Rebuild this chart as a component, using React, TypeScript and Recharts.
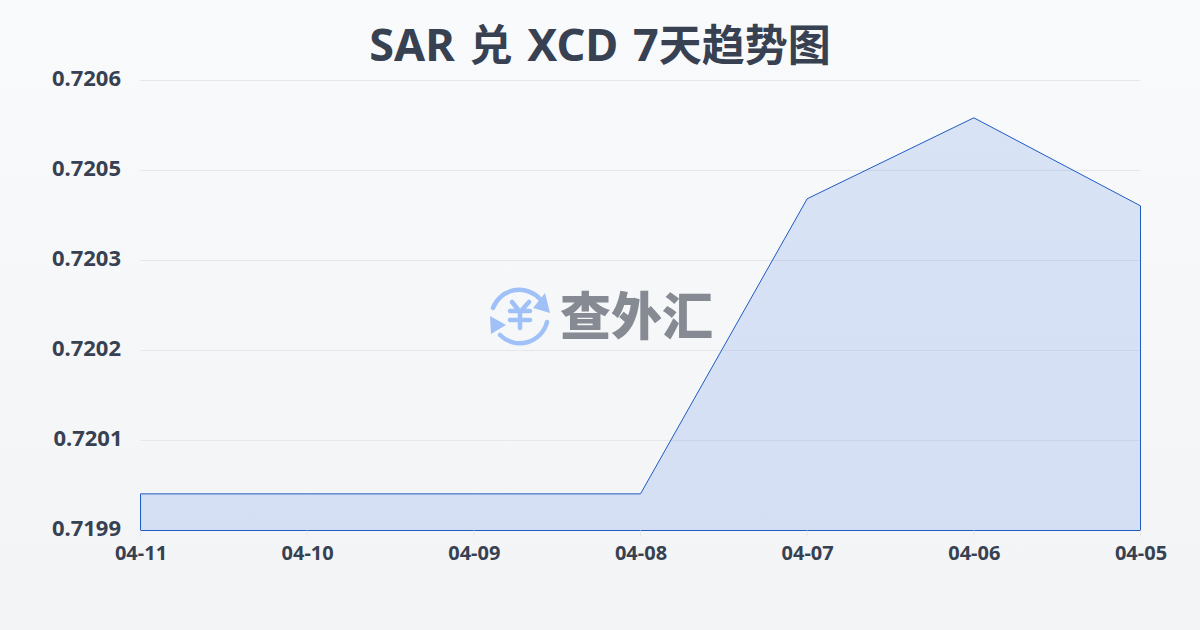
import React from 'react';
import { AreaChart, Area, XAxis, YAxis, CartesianGrid, ReferenceLine } from 'recharts';

const dates = ['04-11', '04-10', '04-09', '04-08', '04-07', '04-06', '04-05'];
const rates = [0.719977, 0.719977, 0.719977, 0.719977, 0.720436, 0.720562, 0.720425];
const yTicks = [0.71992, 0.72006, 0.7202, 0.72034, 0.72048, 0.72062];
const yMin = 0.71992;
const yMax = 0.72062;
const titleParts = ['SAR ', '兑', ' XCD 7', '天趋势图'];
const watermark = '查外汇';

const STROKE = '#1f5bc4';
const ICON = '#a0c0f8';
const FONT = '"Noto Sans", "Noto Sans CJK SC", sans-serif';
const data = dates.map((d, i) => ({ date: d, rate: rates[i] }));

const YTick = (p: any) => {
  const label = Number(p.payload.value).toFixed(4);
  return (
    <text x={label === '0.7201' ? 122.5 : 121} y={p.y + 5.5} textAnchor="end" fontFamily={FONT} fontSize={22} fontWeight={700} fill="#374151">
      {label}
    </text>
  );
};

const XTick = (p: any) => (
  <text x={p.x + 0.5} y={p.y + 21} textAnchor="middle" fontFamily={FONT} fontSize={20} fontWeight={700} fill="#374151">
    {p.payload.value}
  </text>
);

export default function App() {
  return (
    <div
      style={{
        position: 'absolute',
        left: 0,
        top: 0,
        width: 1200,
        height: 630,
        overflow: 'hidden',
        background: 'linear-gradient(180deg, #f9fafc 0%, #f3f4f6 100%)',
      }}
    >
      <div
        style={{
          position: 'absolute',
          left: 0,
          top: 12,
          width: 1200,
          textAlign: 'center',
          fontFamily: FONT,
          fontSize: 45,
          fontWeight: 700,
          lineHeight: '64px',
          wordSpacing: 3,
          color: '#374151',
        }}
      >
        {titleParts.map((part, i) => (
          <span key={i} style={i % 2 === 1 ? { fontSize: 43 } : undefined}>
            {part}
          </span>
        ))}
      </div>
      <div style={{ position: 'absolute', left: 0, top: 0 }}>
        <AreaChart width={1200} height={630} data={data} margin={{ top: 80.5, right: 59.5, bottom: 0, left: 0.5 }}>
          <CartesianGrid vertical={false} stroke="#e5e7eb" strokeWidth={1} />
          <XAxis
            dataKey="date"
            height={99.5}
            interval={0}
            axisLine={false}
            tickLine={{ stroke: '#e5e7eb' }}
            tickSize={6}
            tick={<XTick />}
          />
          <YAxis
            width={140}
            domain={[yMin, yMax]}
            ticks={yTicks}
            interval={0}
            axisLine={false}
            tickLine={false}
            tick={<YTick />}
          />
          <Area
            type="linear"
            dataKey="rate"
            stroke={STROKE}
            strokeWidth={1}
            fill="#2563db"
            fillOpacity={0.15}
            baseValue={yMin}
            dot={false}
            activeDot={false}
            isAnimationActive={false}
          />
          <ReferenceLine segment={[{ x: dates[0], y: yMin }, { x: dates[0], y: rates[0] }]} stroke={STROKE} strokeWidth={1} />
          <ReferenceLine segment={[{ x: dates[6], y: yMin }, { x: dates[6], y: rates[6] }]} stroke={STROKE} strokeWidth={1} />
          <ReferenceLine segment={[{ x: dates[0], y: yMin }, { x: dates[6], y: yMin }]} stroke={STROKE} strokeWidth={1} />
        </AreaChart>
      </div>
      <svg width={62} height={62} viewBox="0 0 62 62" style={{ position: 'absolute', left: 489, top: 285 }}>
        <g fill="none" stroke={ICON} strokeWidth={4.5} strokeLinecap="round" strokeLinejoin="round">
          <path d="M4 23 A28 28 0 0 1 51 14" />
          <path d="M58 37 A28 28 0 0 1 11 50" />
          <path d="M23 17 L31 27 L40 17 M21 26 H41 M21 35 H41 M31 27 V43" />
        </g>
        <path d="M56 8 L61 28 L44 23 Z" fill={ICON} />
        <path d="M1 31 L2 49 L17 40 Z" fill={ICON} />
      </svg>
      <div
        style={{
          position: 'absolute',
          left: 560,
          top: 274,
          fontFamily: '"Noto Sans CJK SC", sans-serif',
          fontSize: 51,
          fontWeight: 900,
          lineHeight: '78px',
          color: '#868a93',
          whiteSpace: 'nowrap',
        }}
      >
        {watermark}
      </div>
    </div>
  );
}
